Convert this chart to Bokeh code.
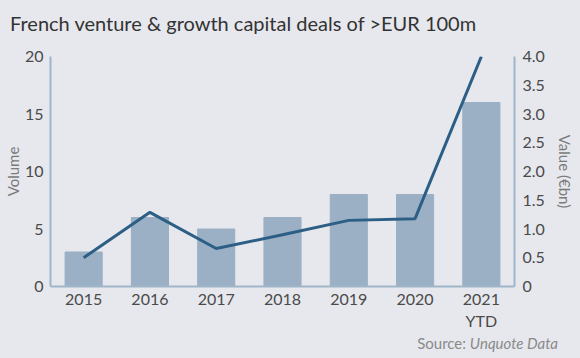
from bokeh.plotting import figure
from bokeh.models import Range1d, LinearAxis, FixedTicker, PrintfTickFormatter, ColumnDataSource, Div
from bokeh.layouts import column
from bokeh.embed import file_html
from bokeh.resources import INLINE

years = ["2015", "2016", "2017", "2018", "2019", "2020", "2021\nYTD"]
volume = [3, 6, 5, 6, 8, 8, 16]
value_bn = [0.5, 1.29, 0.66, 0.90, 1.15, 1.18, 4.0]
left_ticks = [0, 5, 10, 15, 20]
right_ticks = [0, 0.5, 1.0, 1.5, 2.0, 2.5, 3.0, 3.5, 4.0]
title_text = "French venture &amp; growth capital deals of &gt;EUR 100m"
source_prefix = "Source: "
source_name = "Unquote Data"

BG = "#e6e8ed"
BAR = "#9bb0c5"
LINE = "#2d5f86"
AXIS = "#9fb5c8"
FONT = "Lato"

src = ColumnDataSource(dict(x=years, vol=volume, val=value_bn))

p = figure(x_range=years, y_range=Range1d(0, 20),
           frame_width=464, frame_height=230,
           output_backend="svg", toolbar_location=None,
           background_fill_color=BG, border_fill_color=BG,
           min_border_left=47, min_border_right=59, min_border_top=20, min_border_bottom=40)
p.outline_line_color = None
p.grid.visible = False
p.x_range.range_padding = 0

p.extra_y_ranges = {"val": Range1d(0, 4)}

p.vbar(x="x", top="vol", width=0.56, source=src, color=BAR)
p.line(x="x", y="val", source=src, y_range_name="val", line_color=LINE, line_width=3)

def style(ax):
    ax.axis_line_color = AXIS
    ax.axis_line_width = 2
    ax.major_tick_line_color = None
    ax.minor_tick_line_color = None
    ax.major_tick_out = 0
    ax.major_tick_in = 0
    ax.minor_tick_out = 0
    ax.minor_tick_in = 0
    ax.major_label_text_font = FONT
    ax.major_label_text_font_size = "16px"
    ax.major_label_text_color = "#4a4a4a"
    ax.axis_label_text_font = FONT
    ax.axis_label_text_font_size = "15px"
    ax.axis_label_text_font_style = "normal"
    ax.axis_label_text_color = "#7a7a7a"

xa = p.xaxis[0]
style(xa)
xa.major_label_standoff = 2

ya = p.yaxis[0]
style(ya)
ya.ticker = FixedTicker(ticks=left_ticks)
ya.axis_label = "Volume"
ya.major_label_standoff = 7
ya.axis_label_standoff = 0

ra = LinearAxis(y_range_name="val", axis_label="Value (€bn)")
style(ra)
ra.ticker = FixedTicker(ticks=right_ticks)
ra.formatter = PrintfTickFormatter(format="%.1f")
ra.major_label_overrides = {0: "0"}
ra.major_label_standoff = 8
ra.axis_label_standoff = 8
p.add_layout(ra, "right")

title_div = Div(text=title_text, width=570, height=26,
                styles={"font-family": FONT, "font-size": "20px", "color": "#333333",
                        "padding-left": "5px", "padding-top": "6px",
                        "background-color": BG, "line-height": "25px",
                        "box-sizing": "border-box", "width": "570px", "white-space": "nowrap"})

src_div = Div(text=f"{source_prefix}<i>{source_name}</i>", width=570, height=16,
              styles={"font-family": FONT, "font-size": "15px", "color": "#8a8a8a",
                      "text-align": "right", "padding-right": "17px",
                      "background-color": BG, "line-height": "10px",
                      "box-sizing": "border-box", "width": "570px"})

layout = column(title_div, p, src_div, spacing=0, styles={"background-color": BG})

open("out.html", "w").write(file_html(layout, INLINE))
